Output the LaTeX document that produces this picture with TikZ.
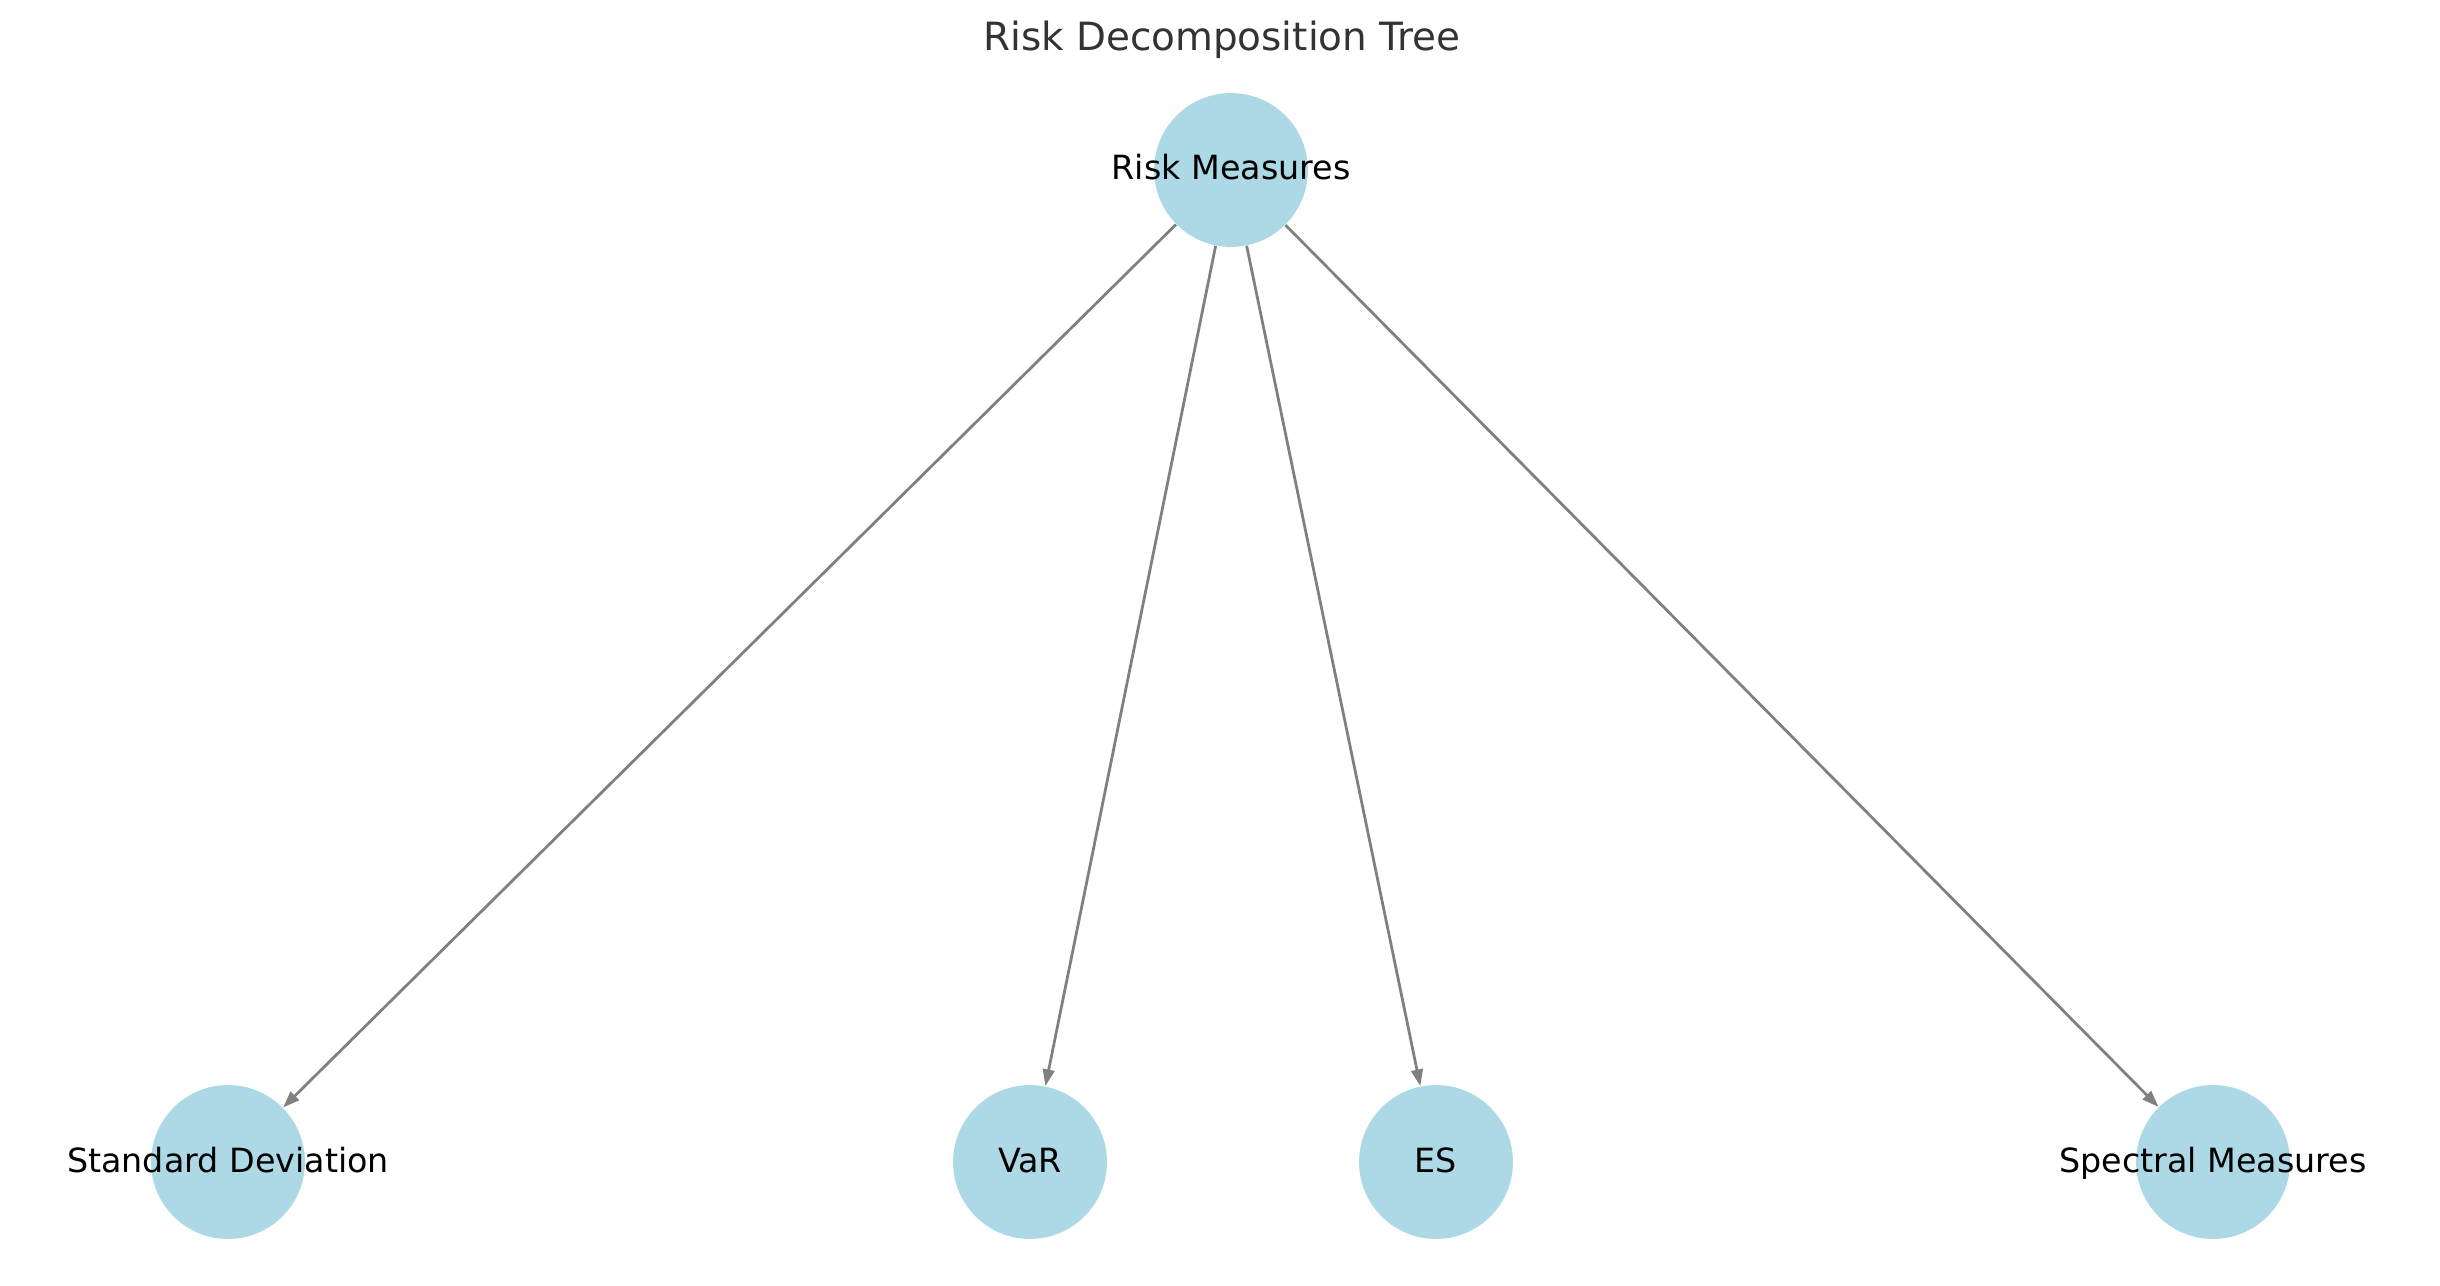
\documentclass[tikz,border=0pt]{standalone}
\usepackage{fontspec}
\setmainfont{DejaVu Sans}
\usetikzlibrary{arrows.meta}
\definecolor{nodeblue}{HTML}{ADD8E6}
\definecolor{edgegray}{HTML}{808080}
\definecolor{titlegray}{HTML}{333333}
\tikzset{
  treenode/.style={circle, fill=nodeblue, draw=none, minimum size=55.4pt, inner sep=0pt},
  nodelabel/.style={font=\fontsize{12pt}{14pt}\selectfont, text=black, anchor=base, inner sep=0pt, yshift=-3.6pt},
  treeedge/.style={draw=edgegray, line width=1pt, -{Triangle[length=6pt,width=4.2pt]}}
}
\begin{document}
\begin{tikzpicture}[x=0.36pt, y=-0.36pt]
\useasboundingbox (0,0) rectangle (2440,1286);
\node[anchor=base, font=\fontsize{14pt}{17pt}\selectfont, text=titlegray] (title) at (1222,51) {Risk Decomposition Tree};
\node[treenode] (root) at (1231,170) {};
\node[treenode] (sd) at (228,1162) {};
\node[treenode] (var) at (1030,1162) {};
\node[treenode] (es) at (1436,1162) {};
\node[treenode] (spec) at (2213,1162) {};
\draw[treeedge] (root) -- (sd);
\draw[treeedge] (root) -- (var);
\draw[treeedge] (root) -- (es);
\draw[treeedge] (root) -- (spec);
\node[nodelabel] (lroot) at (root) {Risk Measures};
\node[nodelabel] (lsd) at (sd) {Standard Deviation};
\node[nodelabel] (lvar) at (var) {VaR};
\node[nodelabel] (les) at (es) {ES};
\node[nodelabel] (lspec) at (spec) {Spectral Measures};
\end{tikzpicture}
\end{document}
